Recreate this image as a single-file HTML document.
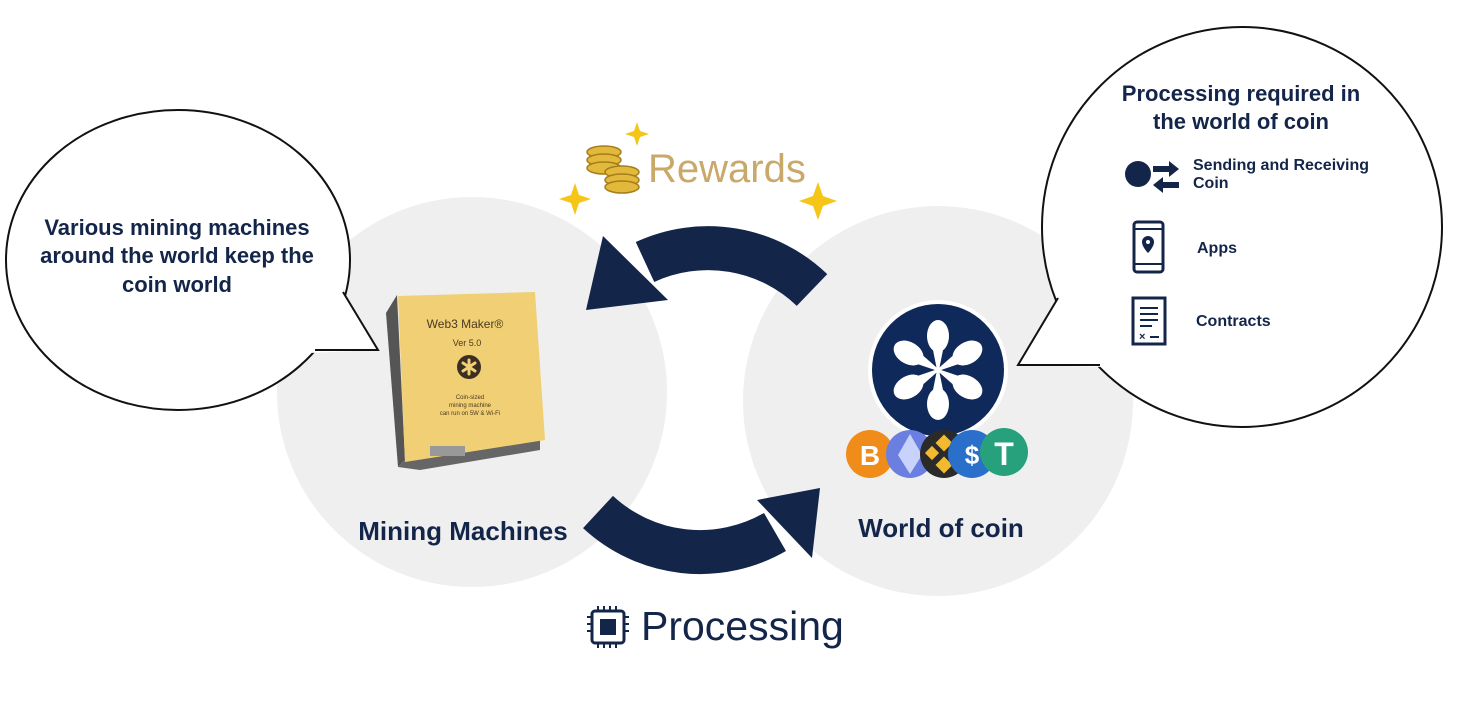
<!DOCTYPE html><html><head><meta charset="utf-8"><style>body{margin:0;background:#fff}svg{display:block}text{font-family:"Liberation Sans",Arial,sans-serif}</style></head><body>
<svg width="1467" height="718" viewBox="0 0 1467 718" xmlns="http://www.w3.org/2000/svg">
<circle cx="472" cy="392" r="195" fill="#efefef"/>
<circle cx="938" cy="401" r="195" fill="#efefef"/>
<!-- left bubble -->
<ellipse cx="178" cy="260" rx="172" ry="150" fill="#fff" stroke="#111" stroke-width="2"/>
<polygon points="339,286 378,350 310,353 320,320" fill="#fff"/>
<path d="M343,292 L378,350 L315,350" fill="none" stroke="#111" stroke-width="2"/>
<g font-weight="bold" font-size="22" fill="#14254a" text-anchor="middle">
<text x="177" y="235">Various mining machines</text><text x="177" y="263">around the world keep the</text><text x="177" y="292">coin world</text></g>
<!-- right bubble -->
<circle cx="1242" cy="227" r="200" fill="#fff" stroke="#111" stroke-width="2"/>
<polygon points="1061,292 1018,365 1104,367 1080,320" fill="#fff"/>
<path d="M1058,298 L1018,365 L1100,365" fill="none" stroke="#111" stroke-width="2"/>
<g fill="#14254a"><text x="1241" y="101" font-weight="bold" font-size="22" text-anchor="middle">Processing required in</text><text x="1241" y="129" font-weight="bold" font-size="22" text-anchor="middle">the world of coin</text>
<g font-weight="bold" font-size="16"><text x="1193" y="170">Sending and Receiving</text><text x="1193" y="188">Coin</text><text x="1197" y="253">Apps</text><text x="1196" y="326">Contracts</text></g>
<circle cx="1138" cy="174" r="13"/>
<path d="M1153,166 h16 v-5 l10,8 l-10,8 v-5 h-16z M1179,182 h-16 v-5 l-10,8 l10,8 v-5 h16z"/>
<rect x="1134" y="222" width="29" height="50" rx="3" fill="none" stroke="#14254a" stroke-width="3"/>
<line x1="1134" y1="229" x2="1163" y2="229" stroke="#14254a" stroke-width="2"/><line x1="1134" y1="264" x2="1163" y2="264" stroke="#14254a" stroke-width="2"/>
<path d="M1148,236 a6,6 0 0 1 6,6 c0,5 -6,11 -6,11 c0,0 -6,-6 -6,-11 a6,6 0 0 1 6,-6z"/><circle cx="1148" cy="242" r="2" fill="#fff"/>
<rect x="1133" y="298" width="32" height="46" fill="none" stroke="#14254a" stroke-width="3"/>
<path d="M1140,308h18M1140,314h18M1140,320h18M1140,326h12M1150,337h9" stroke="#14254a" stroke-width="2"/>
<text x="1139" y="340" font-size="11" font-weight="bold">×</text></g>
<!-- arrows -->
<g fill="none" stroke="#14254a" stroke-width="44"><path d="M812,290 A150,150 0 0 0 645,262"/><path d="M598,512 A150,150 0 0 0 775,532"/></g>
<g fill="#14254a"><polygon points="586,310 603,236 668,300"/><polygon points="820,488 757,500 812,558"/></g>
<!-- rewards -->
<g fill="#f5c518"><path d="M637,122 l3,9 9,3 -9,3 -3,9 -3,-9 -9,-3 9,-3z"/><path d="M575,183 l4,12 12,4 -12,4 -4,12 -4,-12 -12,-4 12,-4z"/><path d="M818,182 l5,14 14,5 -14,5 -5,14 -5,-14 -14,-5 14,-5z"/></g>
<g fill="#e2b93a" stroke="#a47d1c" stroke-width="1.5"><ellipse cx="604" cy="152" rx="17" ry="6"/><ellipse cx="604" cy="160" rx="17" ry="6"/><ellipse cx="604" cy="168" rx="17" ry="6"/><ellipse cx="622" cy="172" rx="17" ry="6"/><ellipse cx="622" cy="180" rx="17" ry="6"/><ellipse cx="622" cy="187" rx="17" ry="6"/></g>
<text x="648" y="182" font-size="40" fill="#c8a96a">Rewards</text>
<!-- processing -->
<rect x="592" y="611" width="32" height="32" rx="3" fill="none" stroke="#14254a" stroke-width="3"/><rect x="600" y="619" width="16" height="16" fill="#14254a"/>
<path d="M598,606v5M604,606v5M610,606v5M616,606v5M598,643v5M604,643v5M610,643v5M616,643v5M587,617h5M587,624h5M587,631h5M624,617h5M624,624h5M624,631h5" stroke="#14254a" stroke-width="2"/>
<text x="641" y="640" font-size="41" fill="#14254a">Processing</text>
<!-- machine -->
<polygon points="386,313 397,295 405,460 398,467" fill="#555"/>
<polygon points="398,467 405,460 540,440 540,450 420,470" fill="#666"/>
<polygon points="398,296 535,292 545,440 405,462" fill="#f1cf74"/>
<rect x="430" y="446" width="35" height="10" fill="#999"/>
<g fill="#4a3a20" text-anchor="middle"><text x="465" y="328" font-size="12" font-family="Liberation Serif">Web3 Maker®</text><text x="467" y="346" font-size="9" font-family="Liberation Serif">Ver 5.0</text><text x="470" y="399" font-size="6" font-family="Liberation Serif">Coin-sized</text><text x="470" y="407" font-size="6" font-family="Liberation Serif">mining machine</text><text x="470" y="415" font-size="6" font-family="Liberation Serif">can run on 5W &amp; Wi-Fi</text></g>
<circle cx="469" cy="367" r="12" fill="#3a2f22"/><g stroke="#f1cf74" stroke-width="3" stroke-linecap="round"><path d="M469,360v14M463,363l12,8M463,371l12,-8"/></g>
<!-- coin world logo -->
<circle cx="938" cy="370" r="70" fill="#fff"/><circle cx="938" cy="370" r="66" fill="#0f2a5a"/>
<g fill="#fff"><g id="pt"><ellipse cx="938" cy="336" rx="11" ry="16"/><polygon points="931,340 945,340 939,370 937,370"/></g>
<use href="#pt" transform="rotate(60 938 370)"/><use href="#pt" transform="rotate(120 938 370)"/><use href="#pt" transform="rotate(180 938 370)"/><use href="#pt" transform="rotate(240 938 370)"/><use href="#pt" transform="rotate(300 938 370)"/></g>
<circle cx="870" cy="454" r="24" fill="#f08c1a"/><text x="870" y="465" font-size="28" font-weight="bold" fill="#fff" text-anchor="middle">B</text>
<circle cx="910" cy="454" r="24" fill="#6b7fe0"/><polygon points="910,434 922,455 910,474 898,455" fill="#c9d2fa"/>
<circle cx="944" cy="454" r="24" fill="#2a2a2a"/><g fill="#f3ba2f"><rect x="938" y="437" width="12" height="12" transform="rotate(45 944 443)"/><rect x="938" y="459" width="12" height="12" transform="rotate(45 944 465)"/><rect x="927" y="448" width="10" height="10" transform="rotate(45 932 453)"/><rect x="951" y="448" width="10" height="10" transform="rotate(45 956 453)"/></g>
<circle cx="972" cy="454" r="24" fill="#2a6fc9"/><text x="972" y="464" font-size="26" font-weight="bold" fill="#fff" text-anchor="middle">$</text>
<circle cx="1004" cy="452" r="24" fill="#26a17b"/><text x="1004" y="465" font-size="32" font-weight="bold" fill="#fff" text-anchor="middle">T</text>
<!-- labels -->
<g font-weight="bold" font-size="26" fill="#14254a" text-anchor="middle"><text x="463" y="540">Mining Machines</text><text x="941" y="537">World of coin</text></g>
</svg></body></html>
